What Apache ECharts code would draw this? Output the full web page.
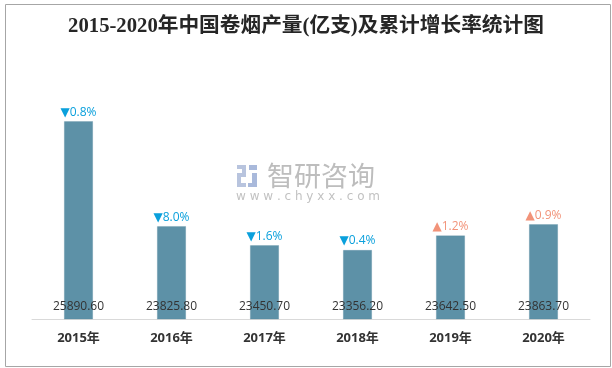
<!DOCTYPE html>
<html><head><meta charset="utf-8">
<script src="https://cdn.jsdelivr.net/npm/echarts@6/dist/echarts.min.js"></script>
<style>html,body{margin:0;padding:0;background:#fff}#c{width:612px;height:368px}</style>
</head><body><div id="c"></div>
<script>
var categories = ['2015年','2016年','2017年','2018年','2019年','2020年'];
var production = [25890.60, 23825.80, 23450.70, 23356.20, 23642.50, 23863.70];
var growth = [-0.8, -8.0, -1.6, -0.4, 1.2, 0.9];
var titleText = '2015-2020年中国卷烟产量(亿支)及累计增长率统计图';

var chart = echarts.init(document.getElementById('c'), null, {renderer:'canvas'});
chart.setOption({
  animation:false,
  backgroundColor:'#ffffff',
  title:{text:titleText,left:'center',top:11,
    textStyle:{fontFamily:'"Liberation Serif","DejaVu Serif","Noto Sans CJK SC",serif',fontSize:20.7,fontWeight:'bold',color:'#262626'}},
  graphic:[
    {type:'rect',left:3,top:2,shape:{width:605,height:362},style:{fill:'none',stroke:'#a6a6a6',lineWidth:1},z:-1},
    {type:'group',left:237,top:165,children:[
      {type:'rect',shape:{x:0,y:0,width:9,height:4},style:{fill:'#b8c4de'}},
      {type:'rect',shape:{x:5,y:0,width:4,height:10},style:{fill:'#b8c4de'}},
      {type:'rect',shape:{x:0,y:8,width:9,height:4},style:{fill:'#b8c4de'}},
      {type:'rect',shape:{x:0,y:8,width:4,height:14},style:{fill:'#b8c4de'}},
      {type:'rect',shape:{x:0,y:18,width:9,height:4},style:{fill:'#b8c4de'}},
      {type:'rect',shape:{x:12,y:0,width:8,height:5},style:{fill:'#a9b9db'}},
      {type:'rect',shape:{x:15,y:8,width:5,height:14},style:{fill:'#a9b9db'}},
      {type:'rect',shape:{x:11,y:18,width:9,height:4},style:{fill:'#a9b9db'}}
    ]},
    {type:'text',left:267,top:162,style:{text:'智研咨询',fill:'#bdbdbd',font:'27px "Noto Sans CJK SC"'}},
    {type:'text',left:236,top:191,style:{text:'w w w . c h y x x . c o m',fill:'#c2c2c2',font:'12px "DejaVu Sans"'}}
  ],
  grid:{left:32,right:22,top:14,bottom:49},
  xAxis:{type:'category',data:categories,
    axisLine:{lineStyle:{color:'#d9d9d9',width:1}},axisTick:{show:false},
    axisLabel:{margin:13,color:'#333',fontSize:13,fontWeight:'bold',fontFamily:'"Open Sans","Noto Sans CJK SC",sans-serif'}},
  yAxis:{type:'value',min:22000,max:28000,show:false,splitLine:{show:false}},
  series:[
    {type:'bar',data:production,barWidth:'31%',
      itemStyle:{color:'#5d91a7',borderColor:'#53869c',borderWidth:0.5,borderType:'dotted'},
      label:{show:true,position:'insideBottom',distance:7,color:'#333',fontSize:12,
        fontFamily:'"Open Sans","DejaVu Sans",sans-serif',
        formatter:function(p){return p.value.toFixed(2);}}},
    {type:'bar',data:production,barWidth:'31%',barGap:'-100%',silent:true,
      itemStyle:{color:'rgba(0,0,0,0)'},
      label:{show:true,position:'top',distance:3,fontSize:12,
        fontFamily:'"Open Sans","DejaVu Sans",sans-serif',
        formatter:function(p){var g=growth[p.dataIndex];
          return g<0?'{d|▼'+Math.abs(g).toFixed(1)+'%}':'{u|▲'+g.toFixed(1)+'%}';},
        rich:{d:{color:'#0aa0dc',fontSize:12},u:{color:'#f29379',fontSize:12}}}}
  ]
});
</script></body></html>
